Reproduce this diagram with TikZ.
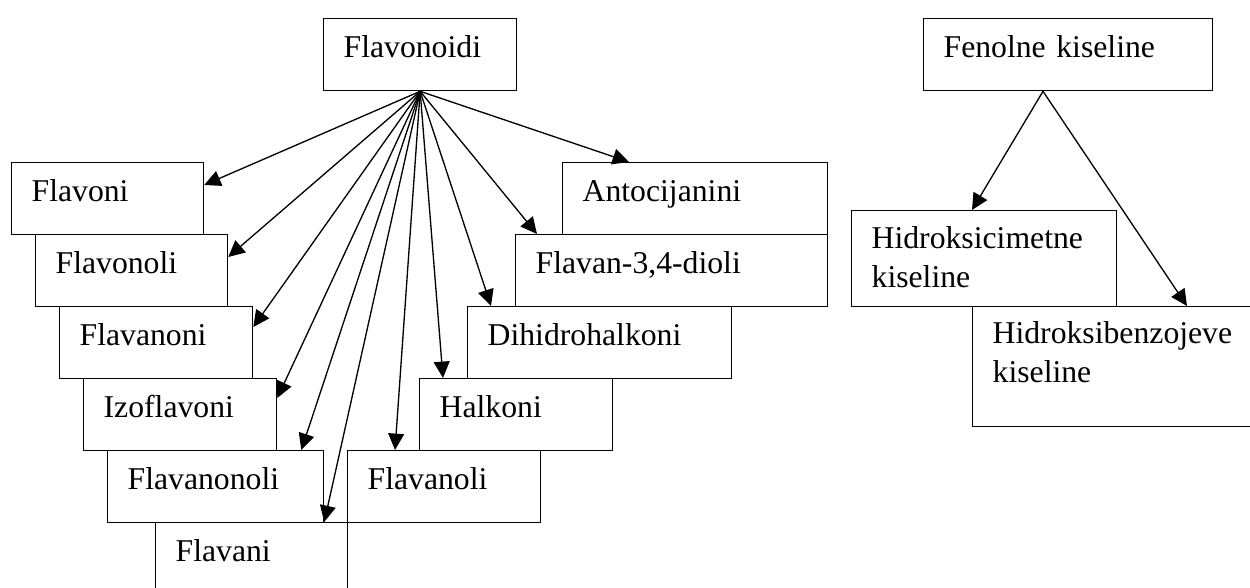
\documentclass[tikz,border=0pt]{standalone}
\usepackage{fontspec}
\setmainfont{Liberation Serif}
\usepackage{tikz}
\usetikzlibrary{arrows.meta,calc}

\tikzset{
  box/.style={draw, line width=0.5pt, anchor=north west, inner xsep=7.57pt, inner ysep=0pt,
    align=left, text height=14.76pt, text depth=12.49pt, font=\fontsize{12}{14.6}\selectfont},
  arr/.style={-{Triangle[length=6.2pt,width=6pt]}, line width=0.5pt},
}

\begin{document}
\begin{tikzpicture}[x=0.3785pt,y=0.3785pt,yscale=-1,xscale=1]
\useasboundingbox (0,0) rectangle (1250,588);
\clip (0,0) rectangle (1250,588);

% Flavonoidi group
\node[box, text width=57.9pt] (flavonoidi) at (323,18) {Flavonoidi};
\node[box, text width=57.5pt] (flavoni) at (11,162) {Flavoni};
\node[box, text width=57.5pt] (flavonoli) at (35,234) {Flavonoli};
\node[box, text width=57.9pt] (flavanoni) at (59,306) {Flavanoni};
\node[box, text width=57.9pt] (izoflavoni) at (83,378) {Izoflavoni};
\node[box, text width=66.6pt] (flavanonoli) at (107,450) {Flavanonoli};
\node[box, text width=57.5pt] (flavani) at (155,522) {Flavani};
\node[box, text width=57.9pt] (flavanoli) at (347,450) {Flavanoli};
\node[box, text width=57.9pt] (halkoni) at (419,378) {Halkoni};
\node[box, text width=84.8pt] (dihidrohalkoni) at (467,306) {Dihidrohalkoni};
\node[box, text width=103.0pt] (flavandioli) at (515,234) {Flavan-3,4-dioli};
\node[box, text width=85.2pt] (antocijanini) at (562,162) {Antocijanini};

% Fenolne kiseline group
\node[box, text width=94.2pt] (fenolne) at (923,18) {Fenolne kiseline};
\node[box, text width=85.2pt, text height=14.38pt, text depth=21.95pt] (cimetne) at (851,210) {Hidroksicimetne\\kiseline};
\node[box, text width=98.4pt, text height=14.0pt, text depth=31.4pt] (benzojeve) at (972,306) {Hidroksibenzojeve\\kiseline};

% connectors
\draw[arr] (flavonoidi.south) -- ($(flavoni.north east)+(0,23)$);
\draw[arr] (flavonoidi.south) -- ($(flavonoli.north east)+(0,23)$);
\draw[arr] (flavonoidi.south) -- ($(flavanoni.north east)+(0,21)$);
\draw[arr] (flavonoidi.south) -- ($(izoflavoni.north east)+(0,20)$);
\draw[arr] (flavonoidi.south) -- ($(flavanonoli.north east)+(-23,0)$);
\draw[arr] (flavonoidi.south) -- ($(flavani.north east)+(-24,0)$);
\draw[arr] (flavonoidi.south) -- ($(flavanoli.north west)+(48,0)$);
\draw[arr] (flavonoidi.south) -- ($(halkoni.north west)+(24,0)$);
\draw[arr] (flavonoidi.south) -- ($(dihidrohalkoni.north west)+(24,0)$);
\draw[arr] (flavonoidi.south) -- ($(flavandioli.north west)+(22,0)$);
\draw[arr] (flavonoidi.south) -- ($(antocijanini.north west)+(67,0)$);

\coordinate (fenolapex) at ($(fenolne.south west)+(120,0)$);
\draw[arr] (fenolapex) -- ($(cimetne.north west)+(121,0)$);
\draw[arr] (fenolapex) -- ($(benzojeve.north west)+(215,0)$);

\end{tikzpicture}
\end{document}
